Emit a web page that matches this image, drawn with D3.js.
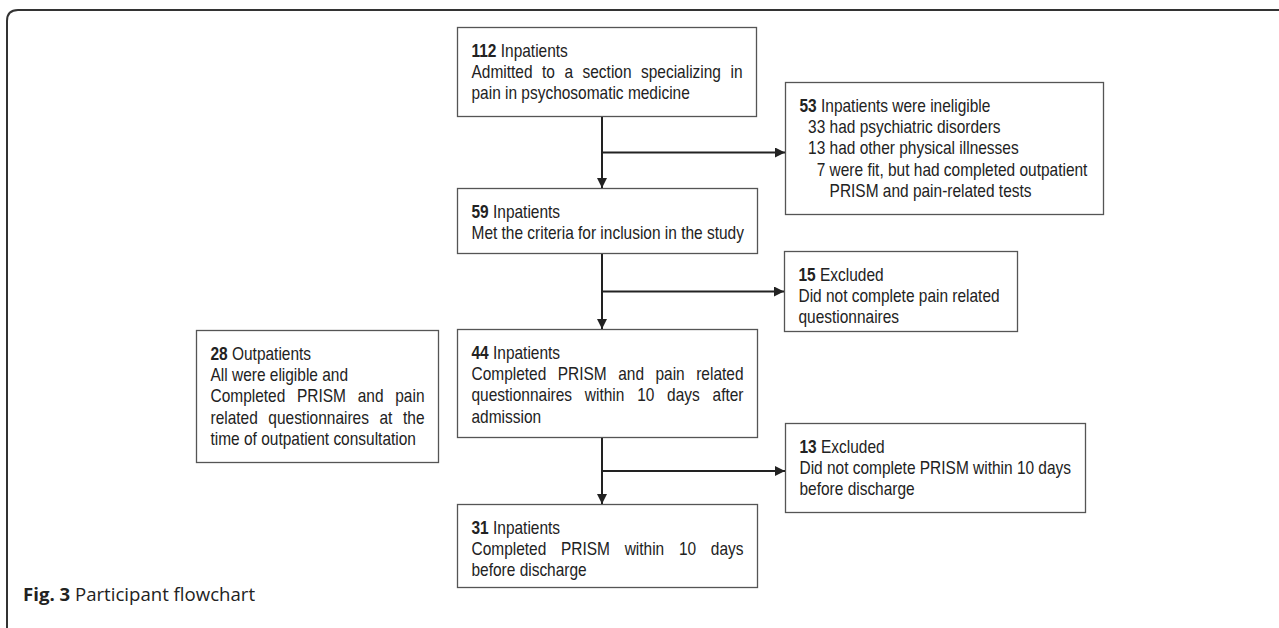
<!DOCTYPE html>
<html>
<head>
<meta charset="utf-8">
<script src="https://cdn.jsdelivr.net/npm/d3@7.9.0/dist/d3.min.js"></script>
<style>
  html, body { margin: 0; padding: 0; background: #fff; }
  svg { display: block; }
  .box text { white-space: pre; }
</style>
</head>
<body>
<svg width="1279" height="628"></svg>
<script>
// participant counts shown in bold at the top of each box
const counts = [112, 53, 59, 15, 28, 44, 13, 31];
const heads = ["Inpatients", "Inpatients were ineligible", "Inpatients", "Excluded",
               "Outpatients", "Inpatients", "Excluded", "Inpatients"];
const bodies = [
  ["Admitted to a section specializing in", "pain in psychosomatic medicine"],
  ["  33 had psychiatric disorders", "  13 had other physical illnesses",
   "    7 were fit, but had completed outpatient", "       PRISM and pain-related tests"],
  ["Met the criteria for inclusion in the study"],
  ["Did not complete pain related", "questionnaires"],
  ["All were eligible and", "Completed PRISM and pain", "related questionnaires at the",
   "time of outpatient consultation"],
  ["Completed PRISM and pain related", "questionnaires within 10 days after", "admission"],
  ["Did not complete PRISM within 10 days", "before discharge"],
  ["Completed PRISM within 10 days", "before discharge"]
];
// which body lines are set justified
const justified = [
  [true, false], [false, false, false, false], [false], [false, false],
  [false, true, true, false], [true, true, false], [false, false], [true, false]
];
// flow: main steps go down, exclusions branch right
const mainFlow = [0, 2, 5, 7];
const branches = [1, 3, 6];

// layout of boxes (x, y, w, h)
const layout = [
  [457, 27, 299, 89],
  [785, 82, 318, 132],
  [457, 188, 300, 65],
  [784, 251, 233, 80],
  [196, 330, 242, 132],
  [457, 329, 300, 108],
  [785, 423, 300, 89],
  [457, 504, 300, 83]
];

const svg = d3.select("svg");
const fontFam = "'Liberation Sans', Arial, sans-serif";
const fs = 18, sx = 0.86, lineH = 21.4, padL = 14.5, padTop = 29.5;
const ink = "#222";

// outer frame (top + left with rounded corner)
svg.append("path")
  .attr("d", "M7,640 L7,21 Q7,10 18,10 L1290,10")
  .attr("fill", "none").attr("stroke", "#333").attr("stroke-width", 2);

svg.append("defs").append("marker")
  .attr("id", "arr").attr("markerUnits", "userSpaceOnUse")
  .attr("viewBox", "0 0 10 10").attr("refX", 10).attr("refY", 5)
  .attr("markerWidth", 10).attr("markerHeight", 10).attr("orient", "auto")
  .append("path").attr("d", "M0,0 L10,5 L0,10 Z").attr("fill", ink);

const boxes = svg.selectAll("g.box").data(counts).join("g")
  .attr("class", "box")
  .attr("transform", (d, i) => `translate(${layout[i][0]},${layout[i][1]})`);

boxes.append("rect")
  .attr("x", 0.5).attr("y", 0.5)
  .attr("width", (d, i) => layout[i][2]).attr("height", (d, i) => layout[i][3])
  .attr("fill", "#fff").attr("stroke", "#555").attr("stroke-width", 1.3);

boxes.each(function (d, i) {
  const g = d3.select(this);
  const W = (layout[i][2] - 2 * padL + 1) / sx;
  const mk = (k) => g.append("text")
    .attr("transform", `translate(${padL},${padTop + k * lineH}) scale(${sx},1)`)
    .attr("font-family", fontFam).attr("font-size", fs).attr("fill", ink);

  const t0 = mk(0);
  t0.append("tspan").attr("font-weight", "bold").text(d);
  t0.append("tspan").text(" " + heads[i]);

  bodies[i].forEach((line, j) => {
    const t = mk(j + 1);
    if (!justified[i][j]) { t.text(line); return; }
    const words = line.trim().split(/\s+/);
    const spans = words.map(w => t.append("tspan").text(w));
    const widths = spans.map(s => s.node().getComputedTextLength());
    const gap = (W - d3.sum(widths)) / (words.length - 1);
    let x = 0;
    spans.forEach((s, k) => { s.attr("x", x); x += widths[k] + gap; });
  });
});

// arrows
const trunkX = 602;
const lineAttrs = sel => sel.attr("fill", "none").attr("stroke", ink).attr("stroke-width", 2);
const bot = i => layout[i][1] + layout[i][3];
for (let k = 0; k < mainFlow.length - 1; k++) {
  const a = mainFlow[k], b = mainFlow[k + 1], br = branches[k];
  svg.append("path").call(lineAttrs)
    .attr("d", d3.line()([[trunkX, bot(a) + 1], [trunkX, layout[b][1]]]))
    .attr("marker-end", "url(#arr)");
  const by = (bot(a) + layout[b][1]) / 2 + 0.5;
  svg.append("path").call(lineAttrs)
    .attr("d", d3.line()([[trunkX, by], [layout[br][0], by]]))
    .attr("marker-end", "url(#arr)");
}

// caption
const cap = svg.append("text").attr("x", 23).attr("y", 601)
  .attr("font-family", "'Open Sans', sans-serif").attr("font-size", 18.6).attr("fill", "#222");
cap.append("tspan").attr("font-weight", "bold").text("Fig. 3");
cap.append("tspan").text(" Participant flowchart");
</script>
</body>
</html>
